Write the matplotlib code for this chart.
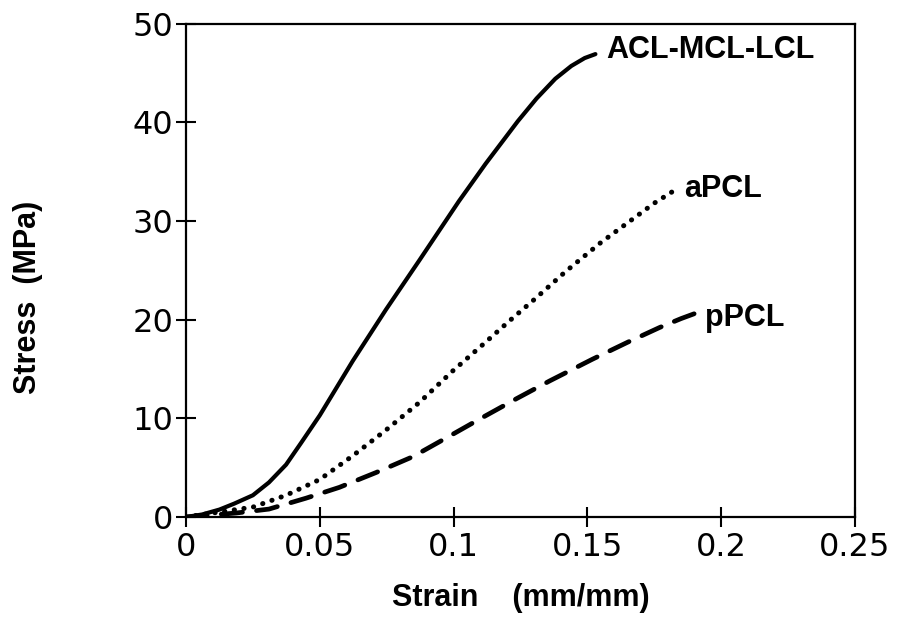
import matplotlib
matplotlib.use("Agg")
import matplotlib.pyplot as plt

# ---- data ----
acl_strain = [0, 0.006, 0.0125, 0.018, 0.025, 0.031, 0.0374, 0.043, 0.05, 0.0623, 0.0747, 0.0872,
              0.102, 0.112, 0.124, 0.131, 0.138, 0.144, 0.149, 0.153]
acl_stress = [0, 0.25, 0.75, 1.35, 2.2, 3.5, 5.3, 7.5, 10.3, 15.8, 21.0, 26.0,
              32.0, 35.8, 40.1, 42.4, 44.4, 45.7, 46.5, 46.9]

apcl_strain = [0, 0.0125, 0.025, 0.0374, 0.05, 0.0623, 0.0747, 0.0872, 0.0997, 0.1115, 0.121, 0.13,
               0.142, 0.155, 0.167, 0.175, 0.182]
apcl_stress = [0, 0.5, 1.0, 2.2, 3.8, 6.2, 8.8, 11.6, 14.8, 17.6, 19.9, 22.0,
               24.9, 27.8, 30.2, 31.8, 33.0]

ppcl_strain = [0, 0.0187, 0.031, 0.0448, 0.0573, 0.071, 0.0847, 0.0972, 0.1096, 0.1236, 0.136,
               0.152, 0.165, 0.177, 0.185, 0.19]
ppcl_stress = [0, 0.4, 0.8, 1.9, 3.0, 4.5, 6.1, 8.0, 9.9, 12.0, 13.8,
               16.0, 17.7, 19.2, 20.1, 20.6]

labels = ["ACL-MCL-LCL", "aPCL", "pPCL"]
label_pos = [(0.157, 47.3), (0.186, 33.2), (0.194, 20.2)]

xticks = [0, 0.05, 0.1, 0.15, 0.2, 0.25]
xticklabels = ["0", "0.05", "0.1", "0.15", "0.2", "0.25"]
yticks = [0, 10, 20, 30, 40, 50]
yticklabels = ["0", "10", "20", "30", "40", "50"]

plt.rcParams['font.family'] = ['Liberation Sans', 'DejaVu Sans']

fig = plt.figure(figsize=(8.98, 6.17), dpi=100)
ax = fig.add_axes([0.2071, 0.1621, 0.7450, 0.7998])

ax.plot(acl_strain, acl_stress, color='black', lw=3.0, solid_capstyle='round',
        solid_joinstyle='round')
ax.plot(apcl_strain, apcl_stress, color='black', lw=3.6,
        linestyle=(0, (0.05, 1.9)), dash_capstyle='round')
ax.plot(ppcl_strain, ppcl_stress, color='black', lw=3.4,
        linestyle=(0, (4.5, 3.0)), dash_capstyle='round')

for txt, (x, y) in zip(labels, label_pos):
    ax.text(x, y, txt, fontsize=22, fontweight='bold', ha='left', va='center',
            color='black')

ax.set_xlim(0, 0.25)
ax.set_ylim(0, 50)
ax.set_xticks(xticks)
ax.set_xticklabels(xticklabels, family=['DejaVu Sans'])
ax.set_yticks(yticks)
ax.set_yticklabels(yticklabels, family=['DejaVu Sans'])
ax.tick_params(axis='both', which='both', direction='inout', length=14, width=1.5,
               labelsize=23, top=False, right=False, colors='black')
ax.tick_params(axis='x', pad=4)
ax.tick_params(axis='y', pad=2)

for s in ax.spines.values():
    s.set_linewidth(1.6)
    s.set_color('black')

ax.set_xlabel("Strain    (mm/mm)", fontsize=22, fontweight='bold', labelpad=14)
ax.set_ylabel("Stress  (MPa)", fontsize=22, fontweight='bold')
ax.yaxis.set_label_coords(-0.213, 0.445)

fig.savefig("out.png", dpi=100, facecolor='white')
